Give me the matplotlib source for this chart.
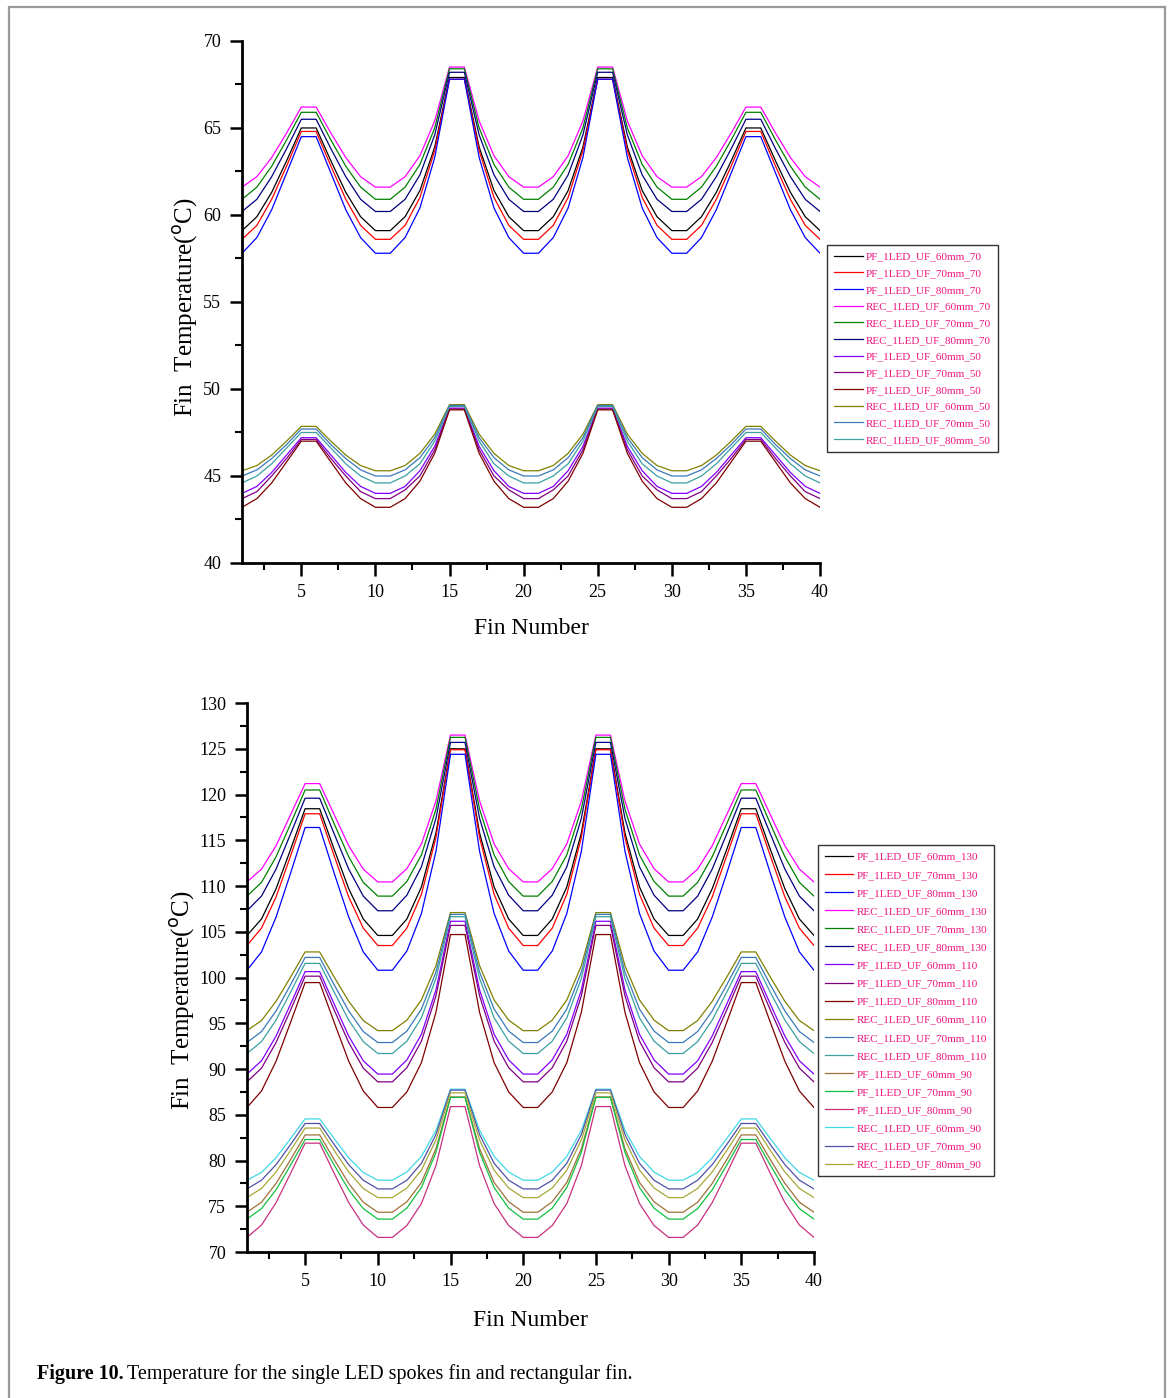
# Fin temperature along the fin number for the single LED spokes fin (PF) and rectangular fin (REC)

import matplotlib
matplotlib.use("Agg")
import matplotlib.pyplot as plt
from matplotlib.patches import Rectangle
from matplotlib.ticker import MultipleLocator

plt.rcParams['font.family'] = ['Liberation Serif', 'DejaVu Serif']

# DATA
fin_number = list(range(1, 41))

# top chart (power 70 and 50)
pf60_70 = [59.1, 59.9, 61.3, 63.1, 65.0, 65.0, 63.1, 61.3, 59.9, 59.1, 59.1, 59.9, 61.4, 63.9, 67.9, 67.9, 63.9, 61.4, 59.9, 59.1,
           59.1, 59.9, 61.4, 63.9, 67.9, 67.9, 63.9, 61.4, 59.9, 59.1, 59.1, 59.9, 61.3, 63.1, 65.0, 65.0, 63.1, 61.3, 59.9, 59.1]
pf70_70 = [58.6, 59.4, 60.9, 62.8, 64.8, 64.8, 62.8, 60.9, 59.4, 58.6, 58.6, 59.4, 61.0, 63.7, 67.8, 67.8, 63.7, 61.0, 59.4, 58.6,
           58.6, 59.4, 61.0, 63.7, 67.8, 67.8, 63.7, 61.0, 59.4, 58.6, 58.6, 59.4, 60.9, 62.8, 64.8, 64.8, 62.8, 60.9, 59.4, 58.6]
pf80_70 = [57.8, 58.7, 60.3, 62.4, 64.5, 64.5, 62.4, 60.3, 58.7, 57.8, 57.8, 58.7, 60.4, 63.3, 67.8, 67.8, 63.3, 60.4, 58.7, 57.8,
           57.8, 58.7, 60.4, 63.3, 67.8, 67.8, 63.3, 60.4, 58.7, 57.8, 57.8, 58.7, 60.3, 62.4, 64.5, 64.5, 62.4, 60.3, 58.7, 57.8]
rec60_70 = [61.6, 62.2, 63.3, 64.7, 66.2, 66.2, 64.7, 63.3, 62.2, 61.6, 61.6, 62.2, 63.4, 65.4, 68.5, 68.5, 65.4, 63.4, 62.2, 61.6,
            61.6, 62.2, 63.4, 65.4, 68.5, 68.5, 65.4, 63.4, 62.2, 61.6, 61.6, 62.2, 63.3, 64.7, 66.2, 66.2, 64.7, 63.3, 62.2, 61.6]
rec70_70 = [60.9, 61.6, 62.8, 64.3, 65.9, 65.9, 64.3, 62.8, 61.6, 60.9, 60.9, 61.6, 62.9, 65.0, 68.4, 68.4, 65.0, 62.9, 61.6, 60.9,
            60.9, 61.6, 62.9, 65.0, 68.4, 68.4, 65.0, 62.9, 61.6, 60.9, 60.9, 61.6, 62.8, 64.3, 65.9, 65.9, 64.3, 62.8, 61.6, 60.9]
rec80_70 = [60.2, 60.9, 62.2, 63.8, 65.5, 65.5, 63.8, 62.2, 60.9, 60.2, 60.2, 60.9, 62.3, 64.6, 68.2, 68.2, 64.6, 62.3, 60.9, 60.2,
            60.2, 60.9, 62.3, 64.6, 68.2, 68.2, 64.6, 62.3, 60.9, 60.2, 60.2, 60.9, 62.2, 63.8, 65.5, 65.5, 63.8, 62.2, 60.9, 60.2]
pf60_50 = [44.0, 44.4, 45.2, 46.2, 47.2, 47.2, 46.2, 45.2, 44.4, 44.0, 44.0, 44.4, 45.3, 46.7, 48.9, 48.9, 46.7, 45.3, 44.4, 44.0,
           44.0, 44.4, 45.3, 46.7, 48.9, 48.9, 46.7, 45.3, 44.4, 44.0, 44.0, 44.4, 45.2, 46.2, 47.2, 47.2, 46.2, 45.2, 44.4, 44.0]
pf70_50 = [43.7, 44.1, 45.0, 46.0, 47.1, 47.1, 46.0, 45.0, 44.1, 43.7, 43.7, 44.2, 45.0, 46.5, 48.85, 48.85, 46.5, 45.0, 44.2, 43.7,
           43.7, 44.2, 45.0, 46.5, 48.85, 48.85, 46.5, 45.0, 44.2, 43.7, 43.7, 44.1, 45.0, 46.0, 47.1, 47.1, 46.0, 45.0, 44.1, 43.7]
pf80_50 = [43.2, 43.7, 44.6, 45.8, 47.0, 47.0, 45.8, 44.6, 43.7, 43.2, 43.2, 43.7, 44.7, 46.3, 48.8, 48.8, 46.3, 44.7, 43.7, 43.2,
           43.2, 43.7, 44.7, 46.3, 48.8, 48.8, 46.3, 44.7, 43.7, 43.2, 43.2, 43.7, 44.6, 45.8, 47.0, 47.0, 45.8, 44.6, 43.7, 43.2]
rec60_50 = [45.3, 45.6, 46.2, 47.0, 47.85, 47.85, 47.0, 46.2, 45.6, 45.3, 45.3, 45.6, 46.3, 47.4, 49.1, 49.1, 47.4, 46.3, 45.6, 45.3,
            45.3, 45.6, 46.3, 47.4, 49.1, 49.1, 47.4, 46.3, 45.6, 45.3, 45.3, 45.6, 46.2, 47.0, 47.85, 47.85, 47.0, 46.2, 45.6, 45.3]
rec70_50 = [45.0, 45.35, 46.0, 46.8, 47.7, 47.7, 46.8, 46.0, 45.35, 45.0, 45.0, 45.35, 46.05, 47.2, 49.05, 49.05, 47.2, 46.05, 45.35, 45.0,
            45.0, 45.35, 46.05, 47.2, 49.05, 49.05, 47.2, 46.05, 45.35, 45.0, 45.0, 45.35, 46.0, 46.8, 47.7, 47.7, 46.8, 46.0, 45.35, 45.0]
rec80_50 = [44.6, 45.0, 45.7, 46.6, 47.5, 47.5, 46.6, 45.7, 45.0, 44.6, 44.6, 45.0, 45.7, 47.0, 49.0, 49.0, 47.0, 45.7, 45.0, 44.6,
            44.6, 45.0, 45.7, 47.0, 49.0, 49.0, 47.0, 45.7, 45.0, 44.6, 44.6, 45.0, 45.7, 46.6, 47.5, 47.5, 46.6, 45.7, 45.0, 44.6]

# bottom chart (power 130, 110 and 90)
pf60_130 = [104.6, 106.4, 109.7, 114.0, 118.45, 118.45, 114.0, 109.7, 106.4, 104.6, 104.6, 106.4, 109.9, 115.8, 125.0, 125.0, 115.8, 109.9, 106.4, 104.6,
            104.6, 106.4, 109.9, 115.8, 125.0, 125.0, 115.8, 109.9, 106.4, 104.6, 104.6, 106.4, 109.7, 114.0, 118.45, 118.45, 114.0, 109.7, 106.4, 104.6]
pf70_130 = [103.5, 105.4, 108.8, 113.3, 117.9, 117.9, 113.3, 108.8, 105.4, 103.5, 103.5, 105.4, 109.1, 115.3, 124.9, 124.9, 115.3, 109.1, 105.4, 103.5,
            103.5, 105.4, 109.1, 115.3, 124.9, 124.9, 115.3, 109.1, 105.4, 103.5, 103.5, 105.4, 108.8, 113.3, 117.9, 117.9, 113.3, 108.8, 105.4, 103.5]
pf80_130 = [100.8, 102.8, 106.6, 111.4, 116.4, 116.4, 111.4, 106.6, 102.8, 100.8, 100.8, 102.9, 107.0, 113.8, 124.4, 124.4, 113.8, 107.0, 102.9, 100.8,
            100.8, 102.9, 107.0, 113.8, 124.4, 124.4, 113.8, 107.0, 102.9, 100.8, 100.8, 102.8, 106.6, 111.4, 116.4, 116.4, 111.4, 106.6, 102.8, 100.8]
rec60_130 = [110.45, 111.85, 114.4, 117.8, 121.2, 121.2, 117.8, 114.4, 111.85, 110.45, 110.45, 111.9, 114.6, 119.3, 126.5, 126.5, 119.3, 114.6, 111.9, 110.45,
             110.45, 111.9, 114.6, 119.3, 126.5, 126.5, 119.3, 114.6, 111.9, 110.45, 110.45, 111.85, 114.4, 117.8, 121.2, 121.2, 117.8, 114.4, 111.85, 110.45]
rec70_130 = [108.9, 110.4, 113.2, 116.8, 120.5, 120.5, 116.8, 113.2, 110.4, 108.9, 108.9, 110.5, 113.4, 118.4, 126.25, 126.25, 118.4, 113.4, 110.5, 108.9,
             108.9, 110.5, 113.4, 118.4, 126.25, 126.25, 118.4, 113.4, 110.5, 108.9, 108.9, 110.4, 113.2, 116.8, 120.5, 120.5, 116.8, 113.2, 110.4, 108.9]
rec80_130 = [107.3, 108.9, 111.85, 115.7, 119.6, 119.6, 115.7, 111.85, 108.9, 107.3, 107.3, 109.0, 112.1, 117.4, 125.7, 125.7, 117.4, 112.1, 109.0, 107.3,
             107.3, 109.0, 112.1, 117.4, 125.7, 125.7, 117.4, 112.1, 109.0, 107.3, 107.3, 108.9, 111.85, 115.7, 119.6, 119.6, 115.7, 111.85, 108.9, 107.3]
pf60_110 = [89.45, 90.9, 93.6, 97.1, 100.65, 100.65, 97.1, 93.6, 90.9, 89.45, 89.45, 91.0, 93.8, 98.65, 106.15, 106.15, 98.65, 93.8, 91.0, 89.45,
            89.45, 91.0, 93.8, 98.65, 106.15, 106.15, 98.65, 93.8, 91.0, 89.45, 89.45, 90.9, 93.6, 97.1, 100.65, 100.65, 97.1, 93.6, 90.9, 89.45]
pf70_110 = [88.6, 90.1, 92.9, 96.45, 100.15, 100.15, 96.45, 92.9, 90.1, 88.6, 88.6, 90.15, 93.05, 98.0, 105.7, 105.7, 98.0, 93.05, 90.15, 88.6,
            88.6, 90.15, 93.05, 98.0, 105.7, 105.7, 98.0, 93.05, 90.15, 88.6, 88.6, 90.1, 92.9, 96.45, 100.15, 100.15, 96.45, 92.9, 90.1, 88.6]
pf80_110 = [85.8, 87.6, 90.85, 95.1, 99.45, 99.45, 95.1, 90.85, 87.6, 85.8, 85.8, 87.5, 90.7, 96.2, 104.7, 104.7, 96.2, 90.7, 87.5, 85.8,
            85.8, 87.5, 90.7, 96.2, 104.7, 104.7, 96.2, 90.7, 87.5, 85.8, 85.8, 87.6, 90.85, 95.1, 99.45, 99.45, 95.1, 90.85, 87.6, 85.8]
rec60_110 = [94.2, 95.3, 97.4, 100.05, 102.8, 102.8, 100.05, 97.4, 95.3, 94.2, 94.2, 95.35, 97.55, 101.3, 107.1, 107.1, 101.3, 97.55, 95.35, 94.2,
             94.2, 95.35, 97.55, 101.3, 107.1, 107.1, 101.3, 97.55, 95.35, 94.2, 94.2, 95.3, 97.4, 100.05, 102.8, 102.8, 100.05, 97.4, 95.3, 94.2]
rec70_110 = [92.9, 94.1, 96.35, 99.2, 102.2, 102.2, 99.2, 96.35, 94.1, 92.9, 92.9, 94.15, 96.55, 100.6, 106.9, 106.9, 100.6, 96.55, 94.15, 92.9,
             92.9, 94.15, 96.55, 100.6, 106.9, 106.9, 100.6, 96.55, 94.15, 92.9, 92.9, 94.1, 96.35, 99.2, 102.2, 102.2, 99.2, 96.35, 94.1, 92.9]
rec80_110 = [91.7, 93.0, 95.35, 98.4, 101.55, 101.55, 98.4, 95.35, 93.0, 91.7, 91.7, 93.05, 95.6, 99.9, 106.65, 106.65, 99.9, 95.6, 93.05, 91.7,
             91.7, 93.05, 95.6, 99.9, 106.65, 106.65, 99.9, 95.6, 93.05, 91.7, 91.7, 93.0, 95.35, 98.4, 101.55, 101.55, 98.4, 95.35, 93.0, 91.7]
pf60_90 = [74.35, 75.45, 77.5, 80.1, 82.8, 82.8, 80.1, 77.5, 75.45, 74.35, 74.35, 75.5, 77.6, 81.3, 86.95, 86.95, 81.3, 77.6, 75.5, 74.35,
           74.35, 75.5, 77.6, 81.3, 86.95, 86.95, 81.3, 77.6, 75.5, 74.35, 74.35, 75.45, 77.5, 80.1, 82.8, 82.8, 80.1, 77.5, 75.45, 74.35]
pf70_90 = [73.6, 74.75, 76.8, 79.5, 82.3, 82.3, 79.5, 76.8, 74.75, 73.6, 73.6, 74.8, 77.05, 80.9, 86.9, 86.9, 80.9, 77.05, 74.8, 73.6,
           73.6, 74.8, 77.05, 80.9, 86.9, 86.9, 80.9, 77.05, 74.8, 73.6, 73.6, 74.75, 76.8, 79.5, 82.3, 82.3, 79.5, 76.8, 74.75, 73.6]
pf80_90 = [71.6, 72.95, 75.4, 78.6, 81.9, 81.9, 78.6, 75.4, 72.95, 71.6, 71.6, 72.9, 75.3, 79.45, 85.9, 85.9, 79.45, 75.3, 72.9, 71.6,
           71.6, 72.9, 75.3, 79.45, 85.9, 85.9, 79.45, 75.3, 72.9, 71.6, 71.6, 72.95, 75.4, 78.6, 81.9, 81.9, 78.6, 75.4, 72.95, 71.6]
rec60_90 = [77.85, 78.7, 80.3, 82.4, 84.55, 84.55, 82.4, 80.3, 78.7, 77.85, 77.85, 78.75, 80.45, 83.3, 87.8, 87.8, 83.3, 80.45, 78.75, 77.85,
            77.85, 78.75, 80.45, 83.3, 87.8, 87.8, 83.3, 80.45, 78.75, 77.85, 77.85, 78.7, 80.3, 82.4, 84.55, 84.55, 82.4, 80.3, 78.7, 77.85]
rec70_90 = [76.9, 77.85, 79.55, 81.75, 84.05, 84.05, 81.75, 79.55, 77.85, 76.9, 76.9, 77.85, 79.7, 82.85, 87.7, 87.7, 82.85, 79.7, 77.85, 76.9,
            76.9, 77.85, 79.7, 82.85, 87.7, 87.7, 82.85, 79.7, 77.85, 76.9, 76.9, 77.85, 79.55, 81.75, 84.05, 84.05, 81.75, 79.55, 77.85, 76.9]
rec80_90 = [75.95, 76.95, 78.75, 81.1, 83.55, 83.55, 81.1, 78.75, 76.95, 75.95, 75.95, 77.0, 78.95, 82.25, 87.4, 87.4, 82.25, 78.95, 77.0, 75.95,
            75.95, 77.0, 78.95, 82.25, 87.4, 87.4, 82.25, 78.95, 77.0, 75.95, 75.95, 76.95, 78.75, 81.1, 83.55, 83.55, 81.1, 78.75, 76.95, 75.95]

top_labels = ['PF_1LED_UF_60mm_70', 'PF_1LED_UF_70mm_70', 'PF_1LED_UF_80mm_70',
              'REC_1LED_UF_60mm_70', 'REC_1LED_UF_70mm_70', 'REC_1LED_UF_80mm_70',
              'PF_1LED_UF_60mm_50', 'PF_1LED_UF_70mm_50', 'PF_1LED_UF_80mm_50',
              'REC_1LED_UF_60mm_50', 'REC_1LED_UF_70mm_50', 'REC_1LED_UF_80mm_50']
top_series = [pf60_70, pf70_70, pf80_70, rec60_70, rec70_70, rec80_70,
              pf60_50, pf70_50, pf80_50, rec60_50, rec70_50, rec80_50]

bottom_labels = ['PF_1LED_UF_60mm_130', 'PF_1LED_UF_70mm_130', 'PF_1LED_UF_80mm_130',
                 'REC_1LED_UF_60mm_130', 'REC_1LED_UF_70mm_130', 'REC_1LED_UF_80mm_130',
                 'PF_1LED_UF_60mm_110', 'PF_1LED_UF_70mm_110', 'PF_1LED_UF_80mm_110',
                 'REC_1LED_UF_60mm_110', 'REC_1LED_UF_70mm_110', 'REC_1LED_UF_80mm_110',
                 'PF_1LED_UF_60mm_90', 'PF_1LED_UF_70mm_90', 'PF_1LED_UF_80mm_90',
                 'REC_1LED_UF_60mm_90', 'REC_1LED_UF_70mm_90', 'REC_1LED_UF_80mm_90']
bottom_series = [pf60_130, pf70_130, pf80_130, rec60_130, rec70_130, rec80_130,
                 pf60_110, pf70_110, pf80_110, rec60_110, rec70_110, rec80_110,
                 pf60_90, pf70_90, pf80_90, rec60_90, rec70_90, rec80_90]

# colours in the Origin default order
colors_a = ['#000000', '#ff0000', '#0000ff', '#ff00ff', '#008000', '#000080']
colors_b = ['#8000ff', '#800080', '#800000', '#808000', '#3a78b8', '#3aa0a0']
colors_c = ['#a07038', '#10c040', '#c8307f', '#40d8e8', '#5050a8', '#a8a838']
top_colors = colors_a + colors_b
bottom_colors = colors_a + colors_b + colors_c

LEGEND_TEXT = '#f0147f'


def style_axes(ax, ymin, ymax):
    ax.set_xlim(1, 40)
    ax.set_ylim(ymin, ymax)
    ax.spines['top'].set_visible(False)
    ax.spines['right'].set_visible(False)
    ax.spines['left'].set_linewidth(2)
    ax.spines['bottom'].set_linewidth(2)
    ax.xaxis.set_major_locator(MultipleLocator(5))
    ax.xaxis.set_minor_locator(MultipleLocator(2.5))
    ax.yaxis.set_major_locator(MultipleLocator(5))
    ax.yaxis.set_minor_locator(MultipleLocator(2.5))
    ax.tick_params(which='major', direction='out', length=9, width=1.8, labelsize=13, pad=6)
    ax.tick_params(which='minor', direction='out', length=5, width=1.5)
    ax.set_xlabel('Fin Number', fontsize=17)
    ax.set_ylabel('Fin  Temperature($^{\\rm o}$C)', fontsize=18)


def draw(ax, series, colors, labels, anchor, spacing):
    for y, c, lab in zip(series, colors, labels):
        ax.plot(fin_number, y, color=c, lw=0.9, label=lab)
    leg = ax.legend(loc='upper left', bbox_to_anchor=anchor, fontsize=8, frameon=True,
                    fancybox=False, edgecolor='black', labelspacing=spacing, handlelength=2.6,
                    handletextpad=0.3, borderpad=0.6, borderaxespad=0)
    leg.get_frame().set_linewidth(1.0)
    for t in leg.get_texts():
        t.set_color(LEGEND_TEXT)


fig = plt.figure(figsize=(11.71, 13.98), dpi=100)

ax1 = fig.add_axes([0.2067, 0.5973, 0.4936, 0.3734])
draw(ax1, top_series, top_colors, top_labels, (1.012, 0.609), 0.62)
style_axes(ax1, 40, 70)
ax1.xaxis.set_label_coords(0.5, -0.105)
ax1.yaxis.set_label_coords(-0.073, 0.49)

ax2 = fig.add_axes([0.2109, 0.1044, 0.4842, 0.3927])
draw(ax2, bottom_series, bottom_colors, bottom_labels, (1.007, 0.741), 0.75)
style_axes(ax2, 70, 130)
ax2.xaxis.set_label_coords(0.5, -0.106)
ax2.yaxis.set_label_coords(-0.088, 0.459)

# grey frame around the figure
fig.add_artist(Rectangle((9 / 1171, -0.01), 1156 / 1171, 1.005, transform=fig.transFigure,
                         fill=False, edgecolor='#9a9a9a', lw=1.6))

# caption
cap_y = 1 - 1374 / 1398
t1 = fig.text(37 / 1171, cap_y, 'Figure 10.', fontsize=14.5, fontweight='bold', va='center')
fig.canvas.draw()
bb = t1.get_window_extent(renderer=fig.canvas.get_renderer())
fig.text(bb.x1 / fig.bbox.width + 0.003, cap_y,
         'Temperature for the single LED spokes fin and rectangular fin.', fontsize=14.5, va='center')

fig.savefig('out.png', dpi=100)
